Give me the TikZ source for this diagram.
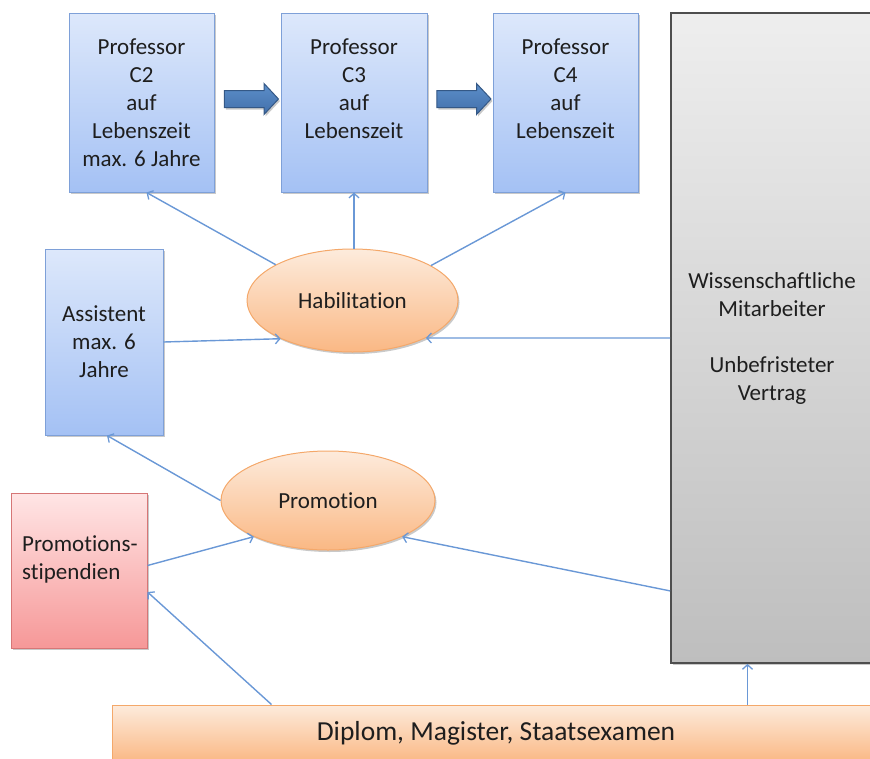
\documentclass[tikz,border=0pt]{standalone}
\usepackage{fontspec}
\setmainfont{Carlito}[Ligatures=NoCommon]
\usetikzlibrary{shapes.geometric,shapes.arrows,arrows.meta,shadows,calc}

\definecolor{blueTop}{RGB}{221,232,251}
\definecolor{blueBot}{RGB}{164,193,244}
\definecolor{blueLine}{RGB}{126,160,216}
\definecolor{orTop}{RGB}{253,235,220}
\definecolor{orBot}{RGB}{250,184,132}
\definecolor{orLine}{RGB}{244,168,106}
\definecolor{redTop}{RGB}{255,229,229}
\definecolor{redBot}{RGB}{246,152,152}
\definecolor{redLine}{RGB}{214,118,118}
\definecolor{grayTop}{RGB}{238,238,238}
\definecolor{grayBot}{RGB}{190,190,190}
\definecolor{grayLine}{RGB}{78,78,78}
\definecolor{connC}{RGB}{106,152,214}
\definecolor{fatTop}{RGB}{92,142,202}
\definecolor{fatBot}{RGB}{66,112,170}
\definecolor{fatLine}{RGB}{52,88,134}
\definecolor{txt}{RGB}{30,30,30}

\begin{document}
\begin{tikzpicture}[x=1pt,y=-1pt,
  every node/.style={text=txt, font=\fontsize{23}{28}\selectfont},
  shadowed/.style={drop shadow={opacity=0.3,shadow xshift=1.5pt,shadow yshift=-2pt,fill=black!70}},
  bluebox/.style={rectangle, draw=blueLine, line width=1pt, top color=blueTop,
    bottom color=blueBot, align=center, inner sep=0pt, shadowed},
  orellipse/.style={ellipse, draw=orLine, line width=1pt, top color=orTop,
    bottom color=orBot, inner sep=0pt, shadowed},
  redbox/.style={rectangle, draw=redLine, line width=1pt, top color=redTop,
    bottom color=redBot, inner sep=0pt, shadowed},
  graybox/.style={rectangle, draw=grayLine, line width=1.8pt, top color=grayTop,
    bottom color=grayBot, align=center, inner sep=0pt, shadowed},
  barbox/.style={rectangle, draw=orLine, line width=1pt, top color=orTop,
    bottom color=orBot, inner sep=0pt, font=\fontsize{27.5}{32}\selectfont},
  fatarrow/.style={single arrow, draw=fatLine, line width=1pt, top color=fatTop,
    bottom color=fatBot, inner sep=8pt, single arrow head extend=7pt,
    single arrow tip angle=94, minimum height=54pt, shadowed},
  conn/.style={draw=connC, line width=1.4pt,
    -{Straight Barb[length=4.5pt,width=10pt,line width=1.3pt]}}
]
\useasboundingbox (0,0) rectangle (870,758);

% professorships
\node[bluebox, minimum width=145pt, minimum height=179pt] (c2) at (141.5,102.5)
  {Professor\\C2\\auf\\Lebenszeit\\max. 6 Jahre};
\node[bluebox, minimum width=146pt, minimum height=179pt] (c3) at (354,102.5)
  {Professor\\C3\\auf\\Lebenszeit\\\mbox{}};
\node[bluebox, minimum width=145pt, minimum height=179pt] (c4) at (565.5,102.5)
  {Professor\\C4\\auf\\Lebenszeit\\\mbox{}};

% block arrows between the professorships
\node[fatarrow] (a23) at ([yshift=3.5pt]$(c2.east)!0.5!(c3.west)$) {};
\node[fatarrow] (a34) at ([yshift=3.5pt]$(c3.east)!0.5!(c4.west)$) {};

% staff with permanent contract
\node[graybox, minimum width=202pt, minimum height=650pt] (gray) at (772,338)
  {Wissenschaftliche\\Mitarbeiter\\\mbox{}\\Unbefristeter\\Vertrag};

% assistant
\node[bluebox, minimum width=118pt, minimum height=186pt] (assist) at (104,342)
  {Assistent\\max. 6\\Jahre};

% qualifications
\node[orellipse, minimum width=211pt, minimum height=103pt] (hab) at (352.5,300.5)
  {Habilitation};
\node[orellipse, minimum width=214pt, minimum height=99pt] (promo) at (328,500.5)
  {Promotion};

% scholarships
\node[redbox, minimum width=136pt, minimum height=155pt] (stip) at (79,570.5) {};
\node[anchor=west, align=left, inner sep=0pt] (stiptxt) at (22,559)
  {Promotions-\\stipendien};

% degrees
\node[barbox, minimum width=768pt, minimum height=57pt] (bar) at (496,733.5)
  {Diplom, Magister, Staatsexamen};

% connectors
\draw[conn] (hab.155) -- ([xshift=5pt]c2.south);
\draw[conn] (c3.south |- hab.north) -- (c3.south);
\draw[conn] (hab.24) -- (c4.south);
\draw[conn] (assist.east) -- (hab.208);
\draw[conn] (gray.west) -- (hab.-27);
\draw[conn] (promo.west) -- ([xshift=3pt]assist.south);
\draw[conn] ([yshift=5pt]stip.east) -- (promo.206);
\draw[conn] ([yshift=73pt]gray.south west) -- (promo.-26);
\draw[conn] ([xshift=160pt]bar.north west) -- ([yshift=-21.5pt]stip.east);
\draw[conn] ([xshift=636pt]bar.north west) coordinate (bg) -- (bg |- gray.south);
\end{tikzpicture}
\end{document}
